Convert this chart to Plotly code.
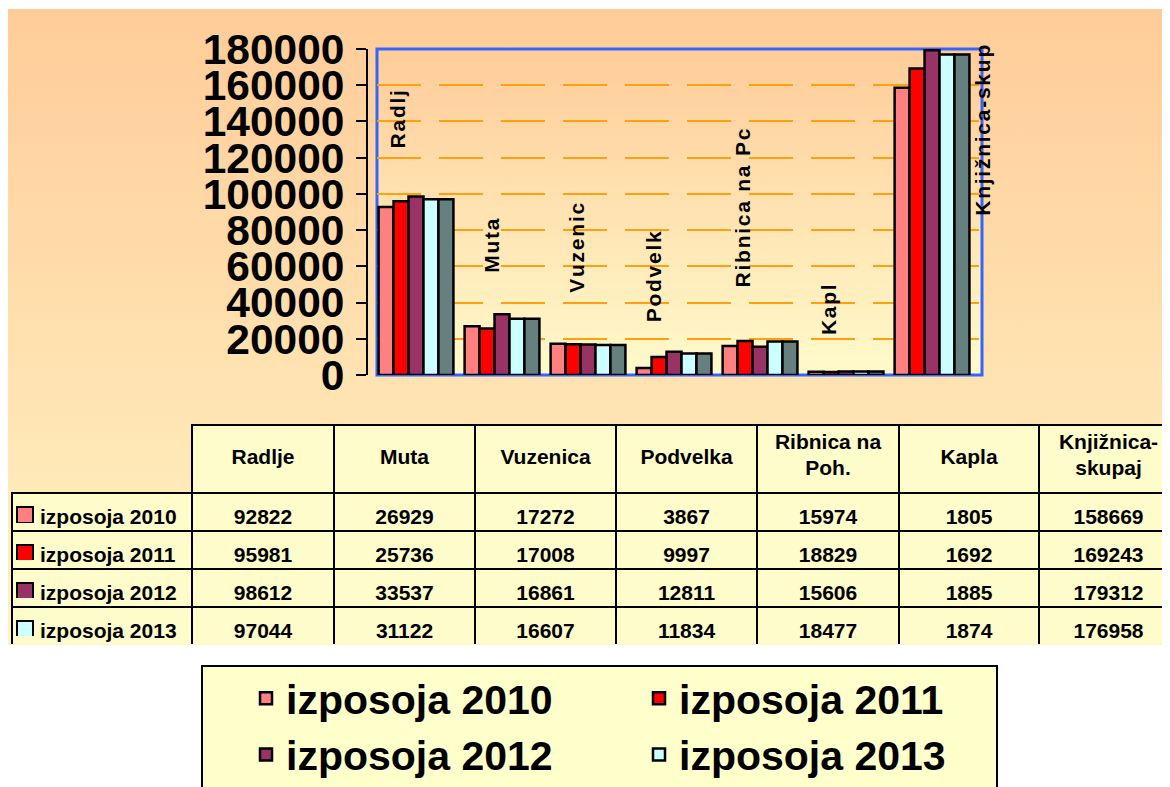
import base64
import plotly.graph_objects as go

# ---------------- data ----------------
categories = ["Radlje", "Muta", "Vuzenica", "Podvelka", "Ribnica na Poh.", "Kapla", "Knjižnica-skupaj"]
header_labels = ["Radlje", "Muta", "Vuzenica", "Podvelka", "Ribnica na<br>Poh.", "Kapla", "Knjižnica-<br>skupaj"]
bar_labels = ["Radlj", "Muta", "Vuzenic", "Podvelk", "Ribnica na Pc", "Kapl", "Knjižnica-skup"]
series_names = ["izposoja 2010", "izposoja 2011", "izposoja 2012", "izposoja 2013"]
izposoja_2010 = [92822, 26929, 17272, 3867, 15974, 1805, 158669]
izposoja_2011 = [95981, 25736, 17008, 9997, 18829, 1692, 169243]
izposoja_2012 = [98612, 33537, 16861, 12811, 15606, 1885, 179312]
izposoja_2013 = [97044, 31122, 16607, 11834, 18477, 1874, 176958]
y_ticks = [0, 20000, 40000, 60000, 80000, 100000, 120000, 140000, 160000, 180000]

series_values = [izposoja_2010, izposoja_2011, izposoja_2012, izposoja_2013]
series_colors = ["#FF8080", "#FF0000", "#993366", "#CCFFFF"]
side_color = "#668080"

W, H = 1170, 787
OFF = 8  # page body margin of the browser
FONT = "Liberation Sans, Arial, sans-serif"
NONE = "rgba(0,0,0,0)"


def fx(px):
    return (px - OFF) / W


def fy(py):
    return 1 - (py - OFF) / H


def grad_src(top, bottom):
    svg = (
        '<svg xmlns="http://www.w3.org/2000/svg" width="100" height="100" preserveAspectRatio="none">'
        '<defs><linearGradient id="g" x1="0" y1="0" x2="0" y2="1">'
        f'<stop offset="0" stop-color="{top}"/><stop offset="1" stop-color="{bottom}"/>'
        '</linearGradient></defs><rect width="100" height="100" fill="url(#g)"/></svg>'
    )
    return "data:image/svg+xml;base64," + base64.b64encode(svg.encode()).decode()


def spaced(s):
    return "\u200a".join(s)


fig = go.Figure()

for name, vals, col in zip(series_names, series_values, series_colors):
    fig.add_trace(go.Bar(
        x=categories, y=vals, name=name,
        marker=dict(color=col, line=dict(color="black", width=2.5)),
        xaxis="x", yaxis="y",
    ))
# depth face of the 3-D cluster (same heights as the last series)
fig.add_trace(go.Bar(
    x=categories, y=izposoja_2013, name="", showlegend=False,
    marker=dict(color=side_color, line=dict(color="black", width=2.5)),
    xaxis="x", yaxis="y", hoverinfo="skip",
))

# ---------------- data table ----------------
col_widths = [180, 142, 141, 141, 141, 142, 140, 139]
TABLE_LEFT, LABEL_LEFT = 12, 32
TABLE_TOP, BODY_TOP, ROW_H = 425, 493, 38
SINGLE_TOP = 440    # top used to centre one-line header texts
SECOND_TOP = 451    # top used for the second line of two-line headers
TEXT_DROP = 7       # centre the body texts vertically
SW_LEFT, SW_SIZE, SW_DROP = 17, 16, 14
n_rows = len(series_names)
body_h = n_rows * ROW_H
hdr_font = dict(family=FONT, size=21, color="black", weight="bold")

split_labels = [lab.split("<br>") for lab in header_labels]
first_lines = [p[0] if len(p) > 1 else "" for p in split_labels]
second_lines = [p[1] if len(p) > 1 else "" for p in split_labels]
one_line = [p[0] if len(p) == 1 else "" for p in split_labels]

# grid, fills and first lines of two-line headers
fig.add_trace(go.Table(
    domain=dict(x=[fx(TABLE_LEFT), 1.0], y=[fy(BODY_TOP + body_h), fy(TABLE_TOP)]),
    columnwidth=col_widths,
    header=dict(
        values=[""] + first_lines,
        height=BODY_TOP - TABLE_TOP,
        fill=dict(color=[NONE] + ["#FFFCCC"] * 7),
        line=dict(color=[NONE] + ["black"] * 7, width=2),
        font=hdr_font,
        align="center",
    ),
    cells=dict(
        values=[[""] * n_rows for _ in col_widths],
        height=ROW_H,
        fill=dict(color="#FFFCCC"),
        line=dict(color="black", width=2),
    ),
))
# second lines of two-line headers
fig.add_trace(go.Table(
    domain=dict(x=[fx(TABLE_LEFT), 1.0], y=[fy(SECOND_TOP + 30), fy(SECOND_TOP)]),
    columnwidth=col_widths,
    header=dict(
        values=[""] + second_lines,
        height=30,
        fill=dict(color=NONE),
        line=dict(color=NONE, width=0),
        font=hdr_font,
        align="center",
    ),
    cells=dict(values=[]),
))
# one-line header texts and body texts
cell_columns = [series_names] + [
    [str(v[i]) for v in series_values] for i in range(len(categories))
]
txt_widths = [col_widths[0] - (LABEL_LEFT - TABLE_LEFT)] + col_widths[1:]
txt_hdr_h = BODY_TOP + TEXT_DROP - SINGLE_TOP
fig.add_trace(go.Table(
    domain=dict(x=[fx(LABEL_LEFT), 1.0],
                y=[fy(SINGLE_TOP + txt_hdr_h + body_h), fy(SINGLE_TOP)]),
    columnwidth=txt_widths,
    header=dict(
        values=[""] + one_line,
        height=txt_hdr_h,
        fill=dict(color=NONE),
        line=dict(color=NONE, width=0),
        font=hdr_font,
        align="center",
    ),
    cells=dict(
        values=cell_columns,
        height=ROW_H,
        fill=dict(color=NONE),
        line=dict(color=NONE, width=0),
        font=dict(family=FONT, size=21, color="black", weight="bold"),
        align=["left"] + ["center"] * 7,
    ),
))
# series colour keys in the first column (one small cell per series)
for i, col in enumerate(series_colors):
    top = BODY_TOP + SW_DROP + i * ROW_H
    fig.add_trace(go.Table(
        domain=dict(x=[fx(SW_LEFT), fx(SW_LEFT + SW_SIZE)], y=[fy(top + SW_SIZE), fy(top)]),
        header=dict(values=[""], height=SW_SIZE, fill=dict(color=col),
                    line=dict(color="black", width=2)),
        cells=dict(values=[]),
    ))

# ---------------- category labels inside the plot ----------------
label_xshift = [-19, -10, -11, -21, -18, -18, 51]
label_yshift = [46, 39, 49, 27, 51, 34, 7]
annotations = []
for i, (cat, lab) in enumerate(zip(categories, bar_labels)):
    top = max(v[i] for v in series_values)
    last = i == len(categories) - 1
    annotations.append(dict(
        x=cat, y=top, xref="x", yref="y", text=spaced(lab), showarrow=False,
        textangle=-90, xshift=label_xshift[i], yshift=label_yshift[i],
        yanchor="top" if last else "bottom",
        font=dict(family=FONT, size=21, color="black", weight="bold"),
    ))

fig.update_layout(
    width=W, height=H,
    margin=dict(l=0, r=0, t=0, b=0, autoexpand=False),
    paper_bgcolor="white",
    plot_bgcolor=NONE,
    barmode="group",
    bargap=0.13,
    bargroupgap=0,
    showlegend=True,
    xaxis=dict(
        domain=[fx(377), fx(982)],
        range=[-0.4535, 6.581],
        showticklabels=False, showgrid=False, zeroline=False, showline=False,
        ticks="", fixedrange=True,
    ),
    yaxis=dict(
        domain=[fy(375), fy(49)],
        range=[0, 180000],
        anchor="free", position=fx(367),
        tickvals=y_ticks,
        tickformat="d",
        showline=True, linecolor="black", linewidth=2,
        ticks="outside", ticklen=10, tickwidth=2, tickcolor="black",
        ticklabelstandoff=3,
        tickfont=dict(family=FONT, size=42.5, color="black", weight="bold"),
        showgrid=True, gridcolor="#FFA010", gridwidth=1.5, griddash="44px,18px",
        zeroline=False, fixedrange=True,
    ),
    legend=dict(
        orientation="h",
        x=fx(246), xanchor="left",
        y=fy(665), yanchor="top",
        bgcolor=NONE, borderwidth=0,
        font=dict(family=FONT, size=41, color="black", weight="bold"),
        entrywidth=348, entrywidthmode="pixels",
        traceorder="normal",
    ),
    images=[
        dict(source=grad_src("#FFCC99", "#FFF3C3"), xref="paper", yref="paper",
             x=0, y=fy(9), sizex=1.0, sizey=fy(9) - fy(645),
             xanchor="left", yanchor="top", sizing="stretch", layer="below"),
        dict(source=grad_src("#FFCC99", "#FFFACB"), xref="paper", yref="paper",
             x=fx(377), y=fy(49), sizex=fx(982) - fx(377), sizey=fy(49) - fy(375),
             xanchor="left", yanchor="top", sizing="stretch", layer="below"),
    ],
    shapes=[
        dict(type="rect", xref="x domain", yref="y domain", x0=0, x1=1, y0=0, y1=1,
             line=dict(color="#3366FF", width=3), fillcolor=NONE, layer="below"),
        dict(type="rect", xref="paper", yref="paper",
             x0=fx(202), x1=fx(997), y0=fy(800), y1=fy(666),
             line=dict(color="black", width=2), fillcolor="#FFFFCC", layer="below"),
    ],
    annotations=annotations,
)

fig.write_html("out.html")
